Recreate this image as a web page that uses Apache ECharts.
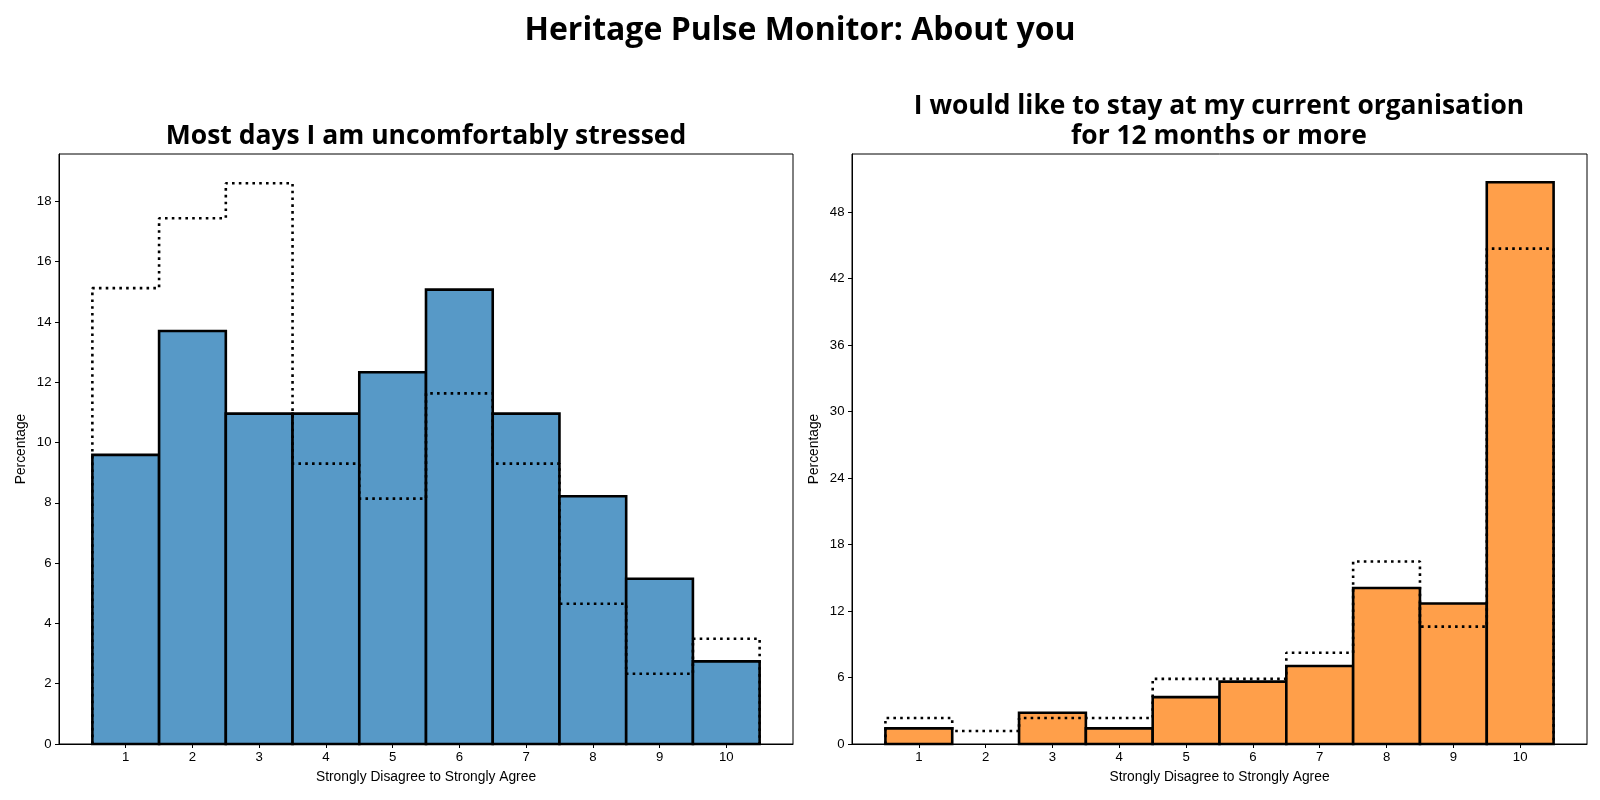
<!DOCTYPE html>
<html>
<head>
<meta charset="utf-8">
<script src="https://cdn.jsdelivr.net/npm/echarts@6/dist/echarts.min.js"></script>
<style>
html,body{margin:0;padding:0;background:#fff;}
#chart{width:1600px;height:800px;}
</style>
</head>
<body>
<div id="chart"></div>
<script>
// ---- data ----
var categories = [1, 2, 3, 4, 5, 6, 7, 8, 9, 10];
var stressedPct = [9.59, 13.70, 10.96, 10.96, 12.33, 15.07, 10.96, 8.22, 5.48, 2.74];
var stressedBenchmarkPct = [15.12, 17.44, 18.60, 9.30, 8.14, 11.63, 9.30, 4.65, 2.33, 3.49];
var stayPct = [1.41, 0, 2.82, 1.41, 4.23, 5.63, 7.04, 14.08, 12.68, 50.70];
var stayBenchmarkPct = [2.35, 1.18, 2.35, 2.35, 5.88, 5.88, 8.24, 16.47, 10.59, 44.71];
var leftYTicks = [0, 2, 4, 6, 8, 10, 12, 14, 16, 18];
var rightYTicks = [0, 6, 12, 18, 24, 30, 36, 42, 48];

var mainTitle = 'Heritage Pulse Monitor: About you';
var leftTitle = 'Most days I am uncomfortably stressed';
var rightTitle = 'I would like to stay at my current organisation\nfor 12 months or more';
var xName = 'Strongly Disagree to Strongly Agree';
var yName = 'Percentage';

// ---- helpers ----
function barData(vals) {
  return categories.map(function (c, i) { return [c, vals[i]]; });
}
function stepData(vals) {
  var pts = [[categories[0] - 0.5, 0]];
  categories.forEach(function (c, i) {
    pts.push([c - 0.5, vals[i]]);
    pts.push([c + 0.5, vals[i]]);
  });
  pts.push([categories[categories.length - 1] + 0.5, 0]);
  return pts;
}
function renderBar(color) {
  return function (params, api) {
    var x = api.value(0), y = api.value(1);
    if (y <= 0) return null;
    var p0 = api.coord([x - 0.5, y]);
    var p1 = api.coord([x + 0.5, 0]);
    return {
      type: 'rect',
      shape: { x: p0[0], y: p0[1], width: p1[0] - p0[0], height: p1[1] - p0[1] },
      style: { fill: color, stroke: '#000', lineWidth: 2.6 }
    };
  };
}
var sansFont = 'Liberation Sans, Arial, sans-serif';
var tickFont = { fontFamily: sansFont, fontSize: 13.2, color: '#000' };

function xAxis(gridIndex) {
  return {
    type: 'value', gridIndex: gridIndex, min: 0, max: 11,
    name: xName, nameLocation: 'middle', nameGap: 26.5,
    nameTextStyle: { fontFamily: sansFont, fontSize: 13.8, color: '#000' },
    axisLine: { show: true, lineStyle: { color: '#000', width: 1 } },
    axisTick: { show: true, length: 4, lineStyle: { color: '#000' }, customValues: categories },
    axisLabel: Object.assign({ margin: 6.5, customValues: categories }, tickFont),
    splitLine: { show: false }
  };
}
function yAxis(gridIndex, max, ticks) {
  return {
    type: 'value', gridIndex: gridIndex, min: 0, max: max,
    name: yName, nameLocation: 'middle', nameGap: 30.5,
    nameTextStyle: { fontFamily: sansFont, fontSize: 13.8, color: '#000' },
    axisLine: { show: true, lineStyle: { color: '#000', width: 1 } },
    axisTick: { show: true, length: 4, lineStyle: { color: '#000' }, customValues: ticks },
    axisLabel: Object.assign({ margin: 7.5, customValues: ticks }, tickFont),
    splitLine: { show: false }
  };
}

var titleFont = 'Open Sans, Noto Sans, sans-serif';
var option = {
  backgroundColor: '#fff',
  animation: false,
  title: [
    { text: mainTitle, left: 800, top: 13, textAlign: 'center', padding: 0,
      textStyle: { fontFamily: titleFont, fontWeight: 'bold', fontSize: 32, lineHeight: 36, color: '#000' } },
    { text: leftTitle, left: 426, top: 121, textAlign: 'center', padding: 0,
      textStyle: { fontFamily: titleFont, fontWeight: 'bold', fontSize: 26.5, lineHeight: 30, color: '#000' } },
    { text: rightTitle, left: 1219, top: 91, textAlign: 'center', padding: 0,
      textStyle: { fontFamily: titleFont, fontWeight: 'bold', fontSize: 26.4, color: '#000', lineHeight: 30, align: 'center' } }
  ],
  grid: [
    { left: 59, top: 154, width: 734, height: 590, show: true, borderColor: '#000', borderWidth: 1, backgroundColor: 'transparent' },
    { left: 852, top: 154, width: 735, height: 590, show: true, borderColor: '#000', borderWidth: 1, backgroundColor: 'transparent' }
  ],
  xAxis: [xAxis(0), xAxis(1)],
  yAxis: [yAxis(0, 19.57, leftYTicks), yAxis(1, 53.25, rightYTicks)],
  series: [
    { type: 'custom', xAxisIndex: 0, yAxisIndex: 0, data: barData(stressedPct),
      renderItem: renderBar('#5799c7'), z: 2 },
    { type: 'line', xAxisIndex: 0, yAxisIndex: 0, data: stepData(stressedBenchmarkPct),
      showSymbol: false, symbol: 'none', z: 5,
      lineStyle: { color: '#000', width: 2.6, type: [2.6, 4.2], cap: 'butt' } },
    { type: 'custom', xAxisIndex: 1, yAxisIndex: 1, data: barData(stayPct),
      renderItem: renderBar('#ff9f4a'), z: 2 },
    { type: 'line', xAxisIndex: 1, yAxisIndex: 1, data: stepData(stayBenchmarkPct),
      showSymbol: false, symbol: 'none', z: 5,
      lineStyle: { color: '#000', width: 2.6, type: [2.6, 4.2], cap: 'butt' } }
  ]
};
var chart = echarts.init(document.getElementById('chart'));
chart.setOption(option);
</script>
</body>
</html>
